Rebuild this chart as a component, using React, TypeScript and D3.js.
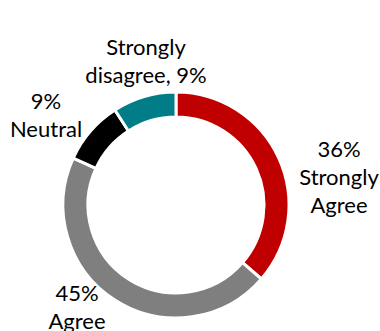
import React from "react";
import * as d3 from "d3";

const categories = ["Strongly Agree", "Agree", "Neutral", "Strongly disagree"];
const values = [36, 45, 9, 9];
const colors = ["#C00000", "#7F7F7F", "#000000", "#007D87"];
const labelLines = [
  ["36%", "Strongly", "Agree"],
  ["45%", "Agree"],
  ["9%", "Neutral"],
  ["Strongly", "disagree, 9%"],
];

// layout (offsets of each label block's first baseline from the donut centre)
const W = 380, H = 331;
const CX = 176, CY = 205;
const R_OUT = 113, R_IN = 88;
const labelOffsets: [number, number][] = [
  [163, -48],
  [-99, 96],
  [-130, -96],
  [-30, -150],
];
const LINE_H = 28;

export default function App() {
  const pie = d3.pie<number>().value((d) => d).sort(null);
  const arcs = pie(values);
  const arc = d3.arc<d3.PieArcDatum<number>>().innerRadius(R_IN).outerRadius(R_OUT);
  return (
    <svg width={W} height={H} style={{ position: "absolute", left: 0, top: 0, background: "#fff" }}>
      <g transform={`translate(${CX},${CY})`}>
        {arcs.map((a, i) => (
          <path key={categories[i]} d={arc(a) || ""} fill={colors[i]} stroke="#fff" strokeWidth={3} />
        ))}
        {labelLines.map((lines, i) => (
          <text
            key={"l" + i}
            x={labelOffsets[i][0]}
            y={labelOffsets[i][1]}
            textAnchor="middle"
            fontFamily="Lato, 'Open Sans', sans-serif"
            fontSize={22}
            fill="#000"
          >
            {lines.map((t, j) => (
              <tspan key={j} x={labelOffsets[i][0]} y={labelOffsets[i][1] + j * LINE_H}>
                {t}
              </tspan>
            ))}
          </text>
        ))}
      </g>
    </svg>
  );
}
